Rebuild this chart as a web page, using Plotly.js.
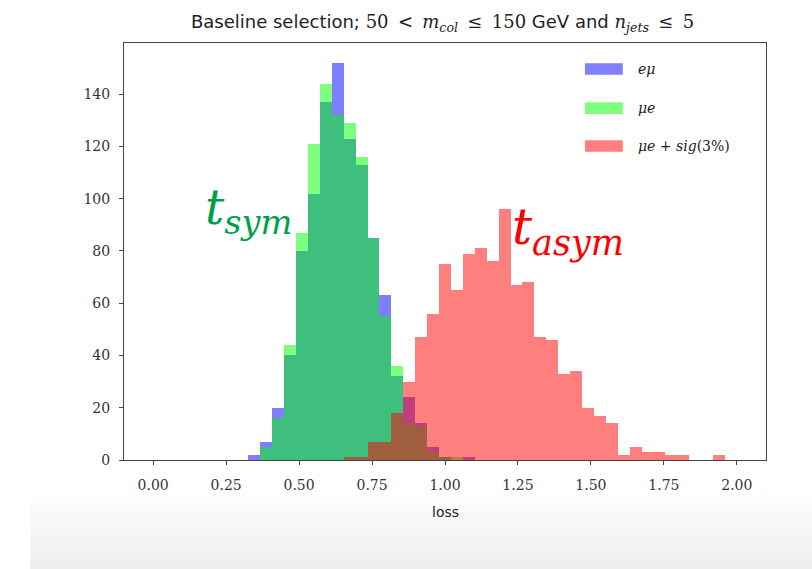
<!DOCTYPE html>
<html>
<head>
<meta charset="utf-8">
<script src="https://cdn.plot.ly/plotly-3.0.1.min.js"></script>
<style>html,body{margin:0;padding:0;background:#fff;}#chart{width:812px;height:569px;}</style>
</head>
<body>
<div id="chart"></div>
<script>
// Histogram bins: 49 equal bins from 0 to 2 (np.linspace(0, 2, 50))
const binLow = 0;
const binHigh = 2;
const binCount = 49;

// counts per bin (index 0..48)
const countsEmu = [0,0,0,0,0,0,0,0, 2,7,20,40,80,102,137,152,123,113,85,63,32,24,14,5,1,0,1, 0,0,0,0,0,0,0,0,0,0,0,0,0,0,0,0,0,0,0,0,0,0];
const countsMue = [0,0,0,0,0,0,0,0, 0,5,16,44,87,121,144,132,129,116,85,55,36,14,13,3,1,1,0, 0,0,0,0,0,0,0,0,0,0,0,0,0,0,0,0,0,0,0,0,0,0];
const countsMueSig = [0,0,0,0,0,0,0,0,0,0,0,0,0,0,0,0, 1,1,7,7,18,30,47,56,75,65,79,81,76,96,67,68,47,46,33,34,20,17,14,2,5,3,3,2,2,0,0,2,0];

const seriesNames = ['eμ', 'μe', 'μe + sig(3%)'];
const seriesLabels = ['<i>eμ</i>', '<i>μe</i>', '<i>μe</i> + <i>sig</i>(3%)'];
const seriesColors = ['rgb(0,0,255)', 'rgb(0,255,0)', 'rgb(255,0,0)'];

const xTicks = [0, 0.25, 0.5, 0.75, 1.0, 1.25, 1.5, 1.75, 2.0];
const xTickText = ['0.00','0.25','0.50','0.75','1.00','1.25','1.50','1.75','2.00'];
const yTicks = [0, 20, 40, 60, 80, 100, 120, 140];

const binWidth = (binHigh - binLow) / binCount;
const binCenters = countsEmu.map((_, i) => binLow + (i + 0.5) * binWidth);

const allCounts = [countsEmu, countsMue, countsMueSig];
const traces = allCounts.map((c, i) => ({
  type: 'bar',
  x: binCenters,
  y: c,
  width: binWidth,
  name: seriesNames[i],
  marker: {color: seriesColors[i], line: {width: 0}},
  opacity: 0.5,
  hoverinfo: 'x+y+name'
}));

const serif = '"DejaVu Serif", "Liberation Serif", serif';
const sans = '"DejaVu Sans", "Liberation Sans", sans-serif';

// manual legend (wide patches like matplotlib)
const legendRowsY = [0.9376, 0.844, 0.753];
const shapes = [];
const annotations = [];
seriesColors.forEach((col, i) => {
  shapes.push({type: 'rect', xref: 'paper', yref: 'paper',
    x0: 0.718, x1: 0.777, y0: legendRowsY[i] - 0.014, y1: legendRowsY[i] + 0.014,
    fillcolor: col, opacity: 0.5, line: {width: 0}});
  annotations.push({xref: 'paper', yref: 'paper', x: 0.798, y: legendRowsY[i],
    xanchor: 'left', yanchor: 'middle', showarrow: false,
    text: seriesLabels[i], font: {family: serif, size: 14, color: '#222'}});
});

annotations.push({xref: 'x', yref: 'y', x: 0.325, y: 95.5, showarrow: false,
  xanchor: 'center', yanchor: 'middle',
  text: '<i>t</i><sub><i>sym</i></sub>',
  font: {family: serif, size: 48, color: '#00a04a'}});
annotations.push({xref: 'x', yref: 'y', x: 1.42, y: 88, showarrow: false,
  xanchor: 'center', yanchor: 'middle',
  text: '<i>t</i><sub><i>asym</i></sub>',
  font: {family: serif, size: 50, color: '#ff0000'}});

annotations.push({xref: 'paper', yref: 'paper', x: 0.5, y: -0.125, showarrow: false,
  xanchor: 'center', yanchor: 'middle', text: 'loss',
  font: {family: sans, size: 14, color: '#222'}});

const grad = '<svg xmlns="http://www.w3.org/2000/svg" width="100" height="100" preserveAspectRatio="none"><defs><linearGradient id="g" x1="0" y1="0" x2="0" y2="1"><stop offset="0" stop-color="#ffffff"/><stop offset="1" stop-color="#ececec"/></linearGradient></defs><rect width="100" height="100" fill="url(#g)"/></svg>';

const layout = {
  width: 812, height: 569,
  margin: {l: 124, r: 46, t: 43, b: 109, pad: 0},
  paper_bgcolor: '#ffffff',
  plot_bgcolor: '#ffffff',
  barmode: 'overlay',
  bargap: 0,
  showlegend: false,
  title: {
    text: 'Baseline selection; <span style="font-family:\'DejaVu Serif\'">50 &#8201;&lt;&#8201; <i>m</i><sub><i>col</i></sub> &#8201;≤&#8201; 150</span> GeV and <span style="font-family:\'DejaVu Serif\'"><i>n</i><sub><i>jets</i></sub> &#8201;≤&#8201; 5</span>',
    font: {family: sans, size: 18, color: '#222'},
    x: 0.545, xanchor: 'center', y: 0.962, yanchor: 'middle'
  },
  xaxis: {
    range: [-0.1, 2.1],
    tickvals: xTicks, ticktext: xTickText,
    ticks: 'outside', ticklen: 4, tickwidth: 1, tickcolor: '#444',
    showline: true, linecolor: '#444', linewidth: 1, mirror: true,
    showgrid: false, zeroline: false,
    tickfont: {family: serif, size: 14, color: '#333'},
    ticklabelstandoff: 8
  },
  yaxis: {
    range: [0, 159.6],
    tickvals: yTicks,
    ticks: 'outside', ticklen: 4, tickwidth: 1, tickcolor: '#444',
    showline: true, linecolor: '#444', linewidth: 1, mirror: true,
    showgrid: false, zeroline: false,
    tickfont: {family: serif, size: 14, color: '#333'},
    ticklabelstandoff: 6
  },
  shapes: shapes,
  annotations: annotations,
  images: [{
    source: 'data:image/svg+xml;charset=utf-8,' + encodeURIComponent(grad),
    xref: 'paper', yref: 'paper',
    x: -0.146, y: -0.07, sizex: 1.22, sizey: 0.2,
    xanchor: 'left', yanchor: 'top', sizing: 'stretch', layer: 'below'
  }]
};

Plotly.newPlot('chart', traces, layout, {displayModeBar: false, staticPlot: true});
</script>
</body>
</html>
